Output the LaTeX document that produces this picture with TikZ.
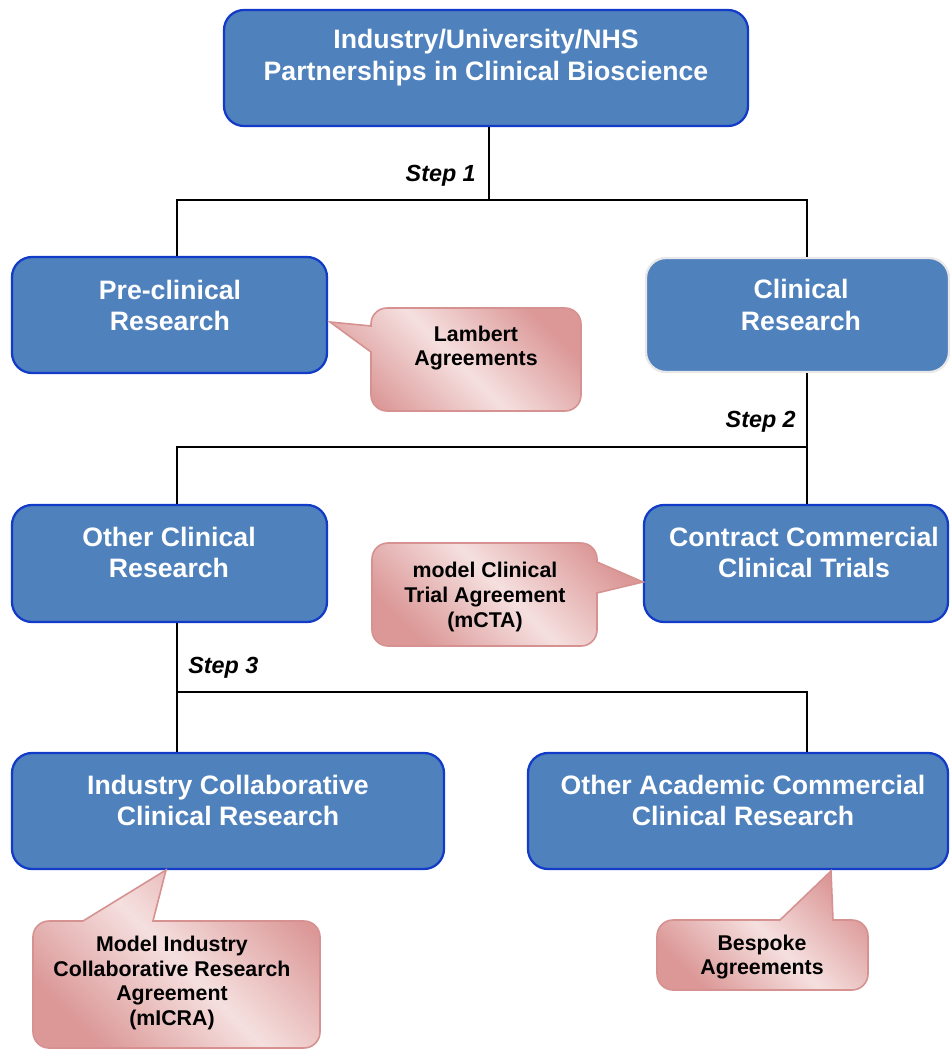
\documentclass[tikz,border=0pt]{standalone}
\usepackage{fontspec}
\setmainfont{Liberation Sans}
\usetikzlibrary{fit}
\definecolor{boxfill}{RGB}{79,129,189}
\definecolor{boxline}{RGB}{18,60,200}
\definecolor{clinline}{RGB}{232,232,232}
\definecolor{calldark}{RGB}{219,152,151}
\definecolor{calllight}{RGB}{245,224,223}
\definecolor{callline}{RGB}{214,146,145}
\begin{document}
\begin{tikzpicture}[x=0.75pt,y=-0.75pt,
 box/.style={draw=boxline, line width=1.7pt, fill=boxfill, rounded corners=15pt, inner sep=0pt},
 boxtxt/.style={text=white, font=\fontsize{20}{23.5}\selectfont\bfseries, align=center, inner sep=0pt},
 conn/.style={draw=black, line width=1.1pt},
 steptxt/.style={font=\fontsize{17.5}{20}\selectfont\bfseries\itshape, inner sep=0pt},
 callout/.style={draw=callline, line width=1.2pt, top color=calldark, bottom color=calldark, middle color=calllight, shading angle=-45},
 calltxt/.style={font=\fontsize{16}{18.5}\selectfont\bfseries, align=center, inner sep=0pt}
]
\useasboundingbox (0,0) rectangle (950,1050);

% boxes
\node[box, fit={(224,10)(748,126)}] (top) {};
\node[box, fit={(12,257)(327,373)}] (pre) {};
\node[box, draw=clinline, fit={(646,258)(949,372)}] (clin) {};
\node[box, fit={(12,505)(327,622)}] (oth) {};
\node[box, fit={(644,505)(948,622)}] (ctr) {};
\node[box, fit={(12,753)(444,869)}] (ind) {};
\node[box, fit={(528,753)(948,869)}] (acad) {};

\node[boxtxt] (topt) at (486,57.5) {Industry/University/NHS\\Partnerships in Clinical Bioscience};
\node[boxtxt] (pret) at (170,305.5) {Pre-clinical\\Research};
\node[boxtxt] (clint) at (801,305) {Clinical\\Research};
\node[boxtxt] (otht) at (169,552.5) {Other Clinical\\Research};
\node[boxtxt] (ctrt) at (804,552.5) {Contract Commercial\\Clinical Trials};
\node[boxtxt] (indt) at (228,800.5) {Industry Collaborative\\Clinical Research};
\node[boxtxt] (acadt) at (743,800.5) {Other Academic Commercial\\Clinical Research};

% connectors
\coordinate (j1) at (489,200);
\coordinate (h1l) at (177,200);
\coordinate (h1r) at (807,200);
\draw[conn] (top.south -| j1) -- (j1);
\draw[conn] (pre.north -| h1l) -- (h1l) -- (h1r) -- (clin.north -| h1r);

\coordinate (h2l) at (177,447);
\coordinate (h2r) at (807,447);
\draw[conn] (clin.south -| h2r) -- (h2r);
\draw[conn] (oth.north -| h2l) -- (h2l) -- (h2r) -- (ctr.north -| h2r);

\coordinate (h3l) at (177,692);
\coordinate (h3r) at (807,692);
\draw[conn] (oth.south -| h3l) -- (ind.north -| h3l);
\draw[conn] (h3l) -- (h3r) -- (acad.north -| h3r);

% step labels
\node[steptxt, anchor=east] (s1) at (476,176) {Step 1};
\node[steptxt, anchor=east] (s2) at (796,422) {Step 2};
\node[steptxt, anchor=west] (s3) at (188,668) {Step 3};

% callouts
\path[callout] (371,326) [rounded corners=12pt] -- (371,308) -- (581,308) -- (581,411) -- (371,411) [sharp corners] -- (371,352) -- (330,322) -- cycle;
\node[calltxt] (lam) at (476,348) {Lambert\\Agreements};

\path[callout] (597,593) [rounded corners=12pt] -- (597,646) -- (372,646) -- (372,543) -- (597,543) [sharp corners] -- (597,562) -- (643,582) -- cycle;
\node[calltxt] (mcta) at (485,597) {model Clinical\\Trial Agreement\\(mCTA)};

\path[callout] (153,921) [rounded corners=12pt] -- (320,921) -- (320,1048) -- (33,1048) -- (33,921) [sharp corners] -- (83,921) -- (166,870) -- cycle;
\node[calltxt] (micra) at (172,983) {Model Industry\\Collaborative Research\\Agreement\\(mICRA)};

\path[callout] (833,920) [rounded corners=12pt] -- (868,920) -- (868,990) -- (657,990) -- (657,920) [sharp corners] -- (780,920) -- (831,871) -- cycle;
\node[calltxt] (besp) at (762,957) {Bespoke\\Agreements};
\end{tikzpicture}
\end{document}
